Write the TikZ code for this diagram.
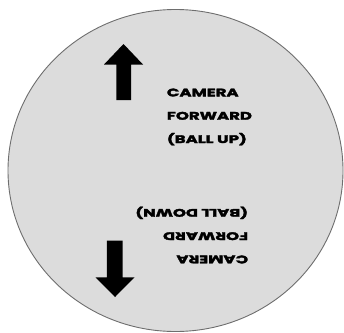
\documentclass[tikz,border=0pt]{standalone}
\usepackage{fontspec}
\newfontfamily\capsfont[FakeStretch=1.5, BoldFeatures={FakeBold=3}]{Poppins}
\usetikzlibrary{positioning}
\definecolor{ballfill}{HTML}{DCDCDC}
\definecolor{balledge}{HTML}{6E6E6E}
\tikzset{
  % --- shapes
  ball/.style  = {fill=ballfill, draw=balledge, line width=0.9pt},
  bigarrow/.style = {fill=black, draw=none},
  % --- labels
  caption/.style = {inner sep=0pt, align=left,
                    font=\capsfont\bfseries\fontsize{11}{23.3}\selectfont},
}
\begin{document}
\begin{tikzpicture}[x=1pt,y=-1pt]
  \useasboundingbox (0,0) rectangle (344,332);
  \begin{scope}
    \clip (0,0) rectangle (344,332);
    \fill[ball] (175.5,170.5) ellipse [x radius=167.5, y radius=161];
  \end{scope}
  % up arrow
  \fill[bigarrow] (123.5,44) -- (143,64.5) -- (131.2,64.5) -- (131.2,100)
    -- (116.4,100) -- (116.4,64.5) -- (104,64.5) -- cycle;
  % down arrow
  \fill[bigarrow] (115,297) -- (134.5,277.3) -- (122.6,277.3) -- (122.6,240.7)
    -- (106.8,240.7) -- (106.8,277.3) -- (95.5,277.3) -- cycle;
  \node[caption, anchor=base west] (up) at (166.7,143)
    {CAMERA\\FORWARD\\(BALL UP)};
  \node[caption, anchor=base west, rotate=180] (down) at (248.3,209)
    {CAMERA\\FORWARD\\(BALL DOWN)};
\end{tikzpicture}
\end{document}
